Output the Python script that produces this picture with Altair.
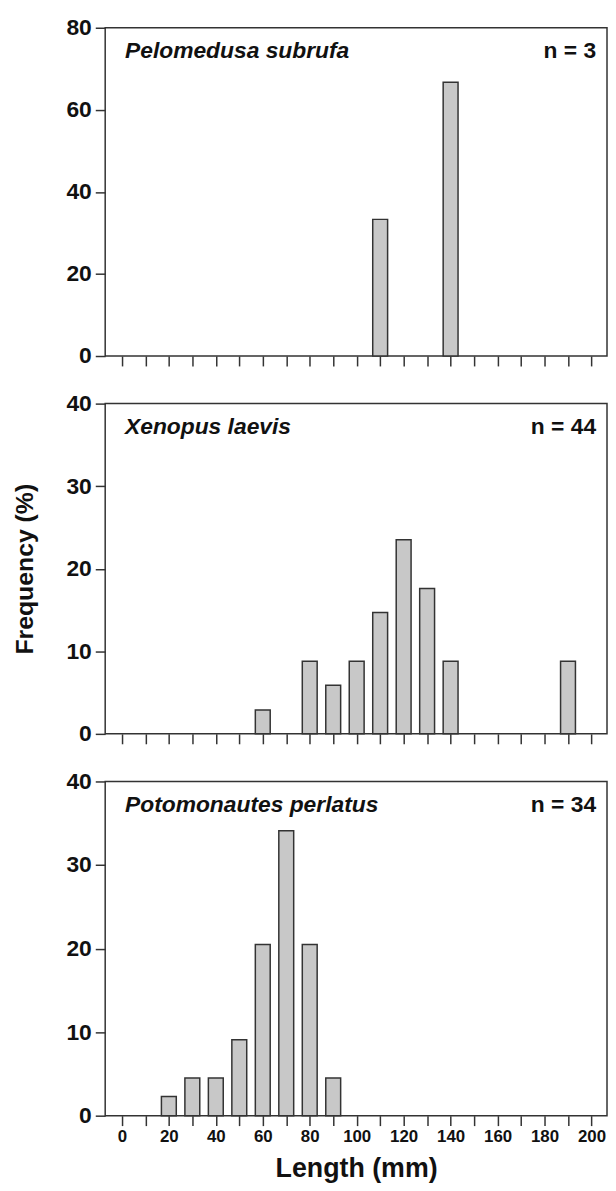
import altair as alt
import pandas as pd

FONT = "Liberation Sans"

species = ["Pelomedusa subrufa", "Xenopus laevis", "Potomonautes perlatus"]
n_labels = ["n = 3", "n = 44", "n = 34"]

pelo_len = [110, 140]
pelo_freq = [33.3, 66.7]

xeno_len = [60, 80, 90, 100, 110, 120, 130, 140, 190]
xeno_freq = [2.9, 8.8, 5.9, 8.8, 14.7, 23.5, 17.6, 8.8, 8.8]

poto_len = [20, 30, 40, 50, 60, 70, 80, 90]
poto_freq = [2.3, 4.5, 4.5, 9.1, 20.5, 34.1, 20.5, 4.5]

y_max = [80, 40, 40]
y_ticks = [[0, 20, 40, 60, 80], [0, 10, 20, 30, 40], [0, 10, 20, 30, 40]]
x_ticks = [0, 10, 20, 30, 40, 50, 60, 70, 80, 90, 100,
           110, 120, 130, 140, 150, 160, 170, 180, 190, 200]
x_domain = [-5, 204.5]

W = 506
heights = [331, 333, 337]

all_len = [pelo_len, xeno_len, poto_len]
all_freq = [pelo_freq, xeno_freq, poto_freq]


def panel(i):
    df = pd.DataFrame({"Length": all_len[i], "Freq": all_freq[i]})
    bottom = i == 2
    middle = i == 1
    x_axis_kw = dict(values=x_ticks, tickSize=10, tickWidth=1.5, tickColor="#333",
                     domain=False, grid=False, labels=bottom)
    if bottom:
        x_axis_kw.update(labelExpr="datum.value % 20 == 0 ? datum.label : ''",
                         labelFont=FONT, labelFontSize=17, labelFontWeight="bold",
                         labelColor="#111", labelPadding=3,
                         title="Length (mm)", titleFont=FONT, titleFontSize=27,
                         titleFontWeight="bold", titleColor="#111", titlePadding=11)
    else:
        x_axis_kw.update(title="")
    y_axis_kw = dict(values=y_ticks[i], tickSize=10, tickWidth=1.5, tickColor="#333",
                     domain=False, grid=False,
                     labelFont=FONT, labelFontSize=23, labelFontWeight="bold",
                     labelColor="#111", labelPadding=4)
    if middle:
        y_axis_kw.update(title="Frequency (%)", titleFont=FONT, titleFontSize=25,
                         titleFontWeight="bold", titleColor="#111", titlePadding=29)
    else:
        y_axis_kw.update(title="")

    bars = alt.Chart(df).mark_bar(size=15, fill="#c8c8c8", stroke="#333",
                                  strokeWidth=1.5).encode(
        x=alt.X("Length:Q", scale=alt.Scale(domain=x_domain, nice=False, zero=False),
                axis=alt.Axis(**x_axis_kw)),
        y=alt.Y("Freq:Q", scale=alt.Scale(domain=[0, y_max[i]], nice=False),
                axis=alt.Axis(**y_axis_kw)),
    )
    sp = alt.Chart(pd.DataFrame({"t": [species[i]]})).mark_text(
        font=FONT, fontSize=23, fontWeight="bold", fontStyle="italic",
        align="left", baseline="alphabetic", color="#111").encode(
        text="t:N", x=alt.value(20), y=alt.value(31))
    nn = alt.Chart(pd.DataFrame({"t": [n_labels[i]]})).mark_text(
        font=FONT, fontSize=23, fontWeight="bold",
        align="right", baseline="alphabetic", color="#111").encode(
        text="t:N", x=alt.value(W - 11), y=alt.value(31))
    return alt.layer(bars, sp, nn).properties(width=W, height=heights[i])


chart = alt.vconcat(panel(0), panel(1), panel(2), spacing=48, bounds="flush").configure_view(
    stroke="#333", strokeWidth=1.5
).properties(padding={"left": 3, "top": 3, "right": 0, "bottom": 0},
             background="white")

chart.save("out.html", embed_options={"renderer": "svg", "actions": False})
